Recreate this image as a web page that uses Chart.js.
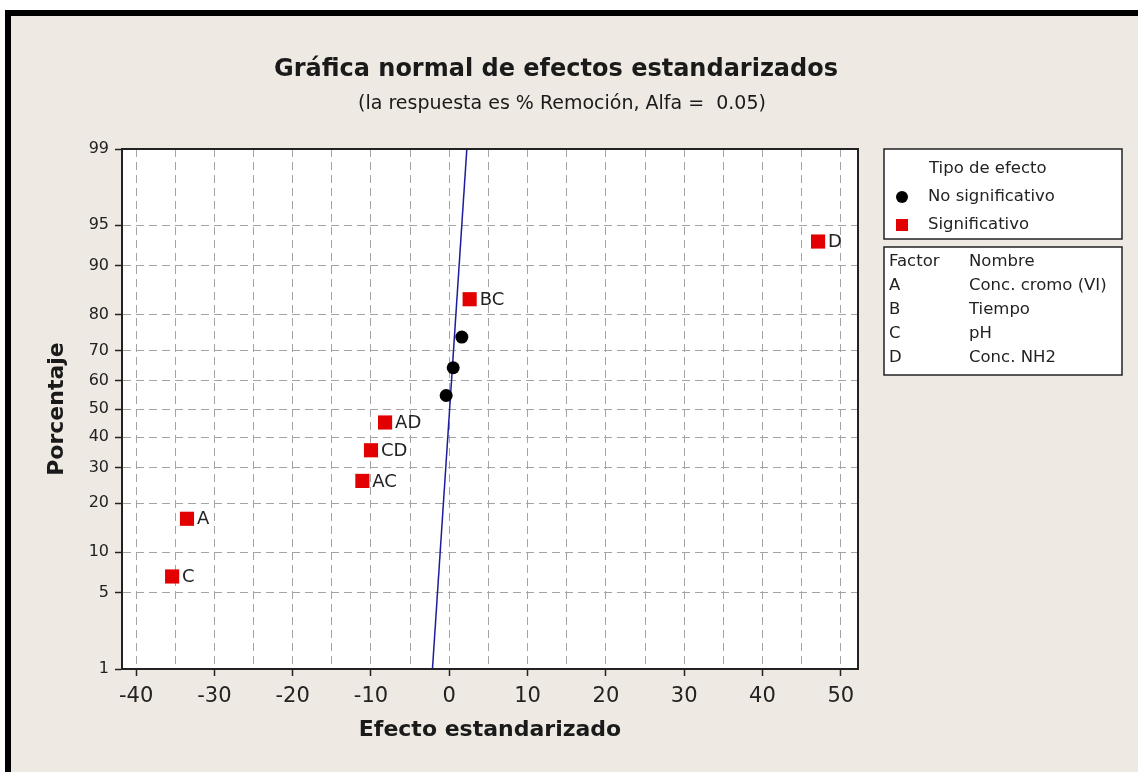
<!DOCTYPE html>
<html>
<head>
<meta charset="utf-8">
<script src="https://cdn.jsdelivr.net/npm/chart.js@4.4.1/dist/chart.umd.min.js"></script>
<style>
  html, body { margin: 0; padding: 0; background: #fff; }
  canvas { display: block; }
</style>
</head>
<body>
<canvas id="effects-chart" width="1138" height="772"></canvas>
<script>
// valores (efecto estandarizado vs porcentaje)
const effectNames = ["C", "A", "AC", "CD", "AD", "", "", "", "BC", "D"];
const effectValues = [-35.4, -33.5, -11.1, -10.0, -8.2, -0.4, 0.5, 1.6, 2.6, 47.1];
const effectPercents = [6.7, 16.3, 26.0, 35.6, 45.2, 54.8, 64.4, 74.0, 83.7, 93.3];
const effectSignificant = [true, true, true, true, true, false, false, false, true, true];

const fitLineValues = [-2.15, 2.24];
const fitLinePercents = [1, 99];

const percentTicks = [1, 5, 10, 20, 30, 40, 50, 60, 70, 80, 90, 95, 99];
const effectTicks = [-40, -35, -30, -25, -20, -15, -10, -5, 0, 5, 10, 15, 20, 25, 30, 35, 40, 45, 50];

const factorCodes = ["A", "B", "C", "D"];
const factorNames = ["Conc. cromo (VI)", "Tiempo", "pH", "Conc. NH2"];

const RED = "#e30000";
const FONT = "'DejaVu Sans', Verdana, sans-serif";

// inversa de la normal (Acklam) para la escala de probabilidad
function probit(p) {
  const a = [-3.969683028665376e+01, 2.209460984245205e+02, -2.759285104469687e+02, 1.383577518672690e+02, -3.066479806614716e+01, 2.506628277459239e+00];
  const b = [-5.447609879822406e+01, 1.615858368580409e+02, -1.556989798598866e+02, 6.680131188771972e+01, -1.328068155288572e+01];
  const c = [-7.784894002430293e-03, -3.223964580411365e-01, -2.400758277161838e+00, -2.549732539343734e+00, 4.374664141464968e+00, 2.938163982698783e+00];
  const d = [7.784695709041462e-03, 3.224671290700398e-01, 2.445134137142996e+00, 3.754408661907416e+00];
  const pLow = 0.02425;
  let q, r;
  if (p < pLow) {
    q = Math.sqrt(-2 * Math.log(p));
    return (((((c[0] * q + c[1]) * q + c[2]) * q + c[3]) * q + c[4]) * q + c[5]) /
      ((((d[0] * q + d[1]) * q + d[2]) * q + d[3]) * q + 1);
  }
  if (p <= 1 - pLow) {
    q = p - 0.5;
    r = q * q;
    return (((((a[0] * r + a[1]) * r + a[2]) * r + a[3]) * r + a[4]) * r + a[5]) * q /
      (((((b[0] * r + b[1]) * r + b[2]) * r + b[3]) * r + b[4]) * r + 1);
  }
  q = Math.sqrt(-2 * Math.log(1 - p));
  return -(((((c[0] * q + c[1]) * q + c[2]) * q + c[3]) * q + c[4]) * q + c[5]) /
    ((((d[0] * q + d[1]) * q + d[2]) * q + d[3]) * q + 1);
}

const significantPoints = [];
const otherPoints = [];
effectValues.forEach((v, i) => {
  const pt = { x: v, y: probit(effectPercents[i] / 100), name: effectNames[i] };
  if (effectSignificant[i]) significantPoints.push(pt);
  else otherPoints.push(pt);
});

const fitLine = fitLineValues.map((v, i) => ({ x: v, y: probit(fitLinePercents[i] / 100) }));

const decorPlugin = {
  id: "decor",
  beforeDraw(chart) {
    const ctx = chart.ctx;
    const area = chart.chartArea;
    ctx.save();
    ctx.fillStyle = "#ffffff";
    ctx.fillRect(0, 0, chart.width, chart.height);
    ctx.fillStyle = "#efe9e3";
    ctx.fillRect(5, 10, chart.width - 5, chart.height - 10);
    ctx.fillStyle = "#000";
    ctx.fillRect(5, 10, chart.width - 5, 6);
    ctx.fillRect(5, 10, 6, chart.height - 10);
    ctx.fillStyle = "#ffffff";
    ctx.fillRect(area.left, area.top, area.right - area.left, area.bottom - area.top);
    ctx.restore();
  },
  afterDatasetsDraw(chart) {
    const ctx = chart.ctx;
    const meta = chart.getDatasetMeta(0);
    ctx.save();
    ctx.font = "18px " + FONT;
    ctx.fillStyle = "#222";
    ctx.textBaseline = "middle";
    ctx.textAlign = "left";
    meta.data.forEach((el, i) => {
      ctx.fillText(chart.data.datasets[0].data[i].name, el.x + 10, el.y + 1);
    });
    ctx.restore();
  },
  afterDraw(chart) {
    const ctx = chart.ctx;
    const area = chart.chartArea;
    ctx.save();
    // marco del area de trazado
    ctx.strokeStyle = "#222";
    ctx.lineWidth = 2;
    ctx.strokeRect(area.left, area.top, area.right - area.left, area.bottom - area.top);

    // titulos
    ctx.fillStyle = "#1a1a1a";
    ctx.textAlign = "center";
    ctx.textBaseline = "middle";
    ctx.font = "bold 24px " + FONT;
    ctx.fillText("Gráfica normal de efectos estandarizados", 556, 70);
    ctx.font = "19px " + FONT;
    ctx.fillText("(la respuesta es % Remoción, Alfa =  0.05)", 562, 104);

    ctx.font = "bold 22px " + FONT;
    ctx.fillText("Efecto estandarizado", (area.left + area.right) / 2, 730);
    ctx.save();
    ctx.translate(57, (area.top + area.bottom) / 2);
    ctx.rotate(-Math.PI / 2);
    ctx.fillText("Porcentaje", 0, 0);
    ctx.restore();

    // leyenda: tipo de efecto
    ctx.lineWidth = 1.5;
    ctx.strokeStyle = "#222";
    ctx.fillStyle = "#fff";
    ctx.fillRect(884, 149, 238, 90);
    ctx.strokeRect(884, 149, 238, 90);
    ctx.fillRect(884, 247, 238, 128);
    ctx.strokeRect(884, 247, 238, 128);

    ctx.fillStyle = "#222";
    ctx.textAlign = "left";
    ctx.font = "16.5px " + FONT;
    ctx.fillText("Tipo de efecto", 929, 169);
    ctx.fillText("No significativo", 928, 197);
    ctx.fillText("Significativo", 928, 225);
    ctx.fillStyle = "#000";
    ctx.beginPath();
    ctx.arc(902, 197, 6, 0, Math.PI * 2);
    ctx.fill();
    ctx.fillStyle = RED;
    ctx.fillRect(896, 219, 12, 12);

    // leyenda: factores
    ctx.fillStyle = "#222";
    ctx.fillText("Factor", 889, 262);
    ctx.fillText("Nombre", 969, 262);
    factorCodes.forEach((code, i) => {
      const y = 286 + i * 24;
      ctx.fillText(code, 889, y);
      ctx.fillText(factorNames[i], 969, y);
    });
    ctx.restore();
  },
};

const ctx = document.getElementById("effects-chart").getContext("2d");

const effectsChart = new Chart(ctx, {
  type: "scatter",
  data: {
    datasets: [
      {
        label: "Significativo",
        data: significantPoints,
        pointStyle: "rect",
        pointRadius: 10,
        pointBackgroundColor: RED,
        pointBorderWidth: 0,
        pointBorderColor: RED,
      },
      {
        label: "No significativo",
        data: otherPoints,
        pointStyle: "circle",
        pointRadius: 6.5,
        pointBackgroundColor: "#000",
        pointBorderWidth: 0,
      },
      {
        label: "Ajuste",
        data: fitLine,
        showLine: true,
        pointRadius: 0,
        borderColor: "#1c1c9c",
        borderWidth: 1.5,
      },
    ],
  },
  options: {
    responsive: false,
    animation: false,
    events: [],
    layout: {
      padding: { top: 149, right: 280, bottom: 0, left: 0 },
    },
    plugins: {
      legend: { display: false },
      tooltip: { enabled: false },
    },
    scales: {
      x: {
        type: "linear",
        min: -41.8,
        max: 52.2,
        afterBuildTicks: (scale) => {
          scale.ticks = effectTicks.map((v) => ({ value: v }));
        },
        afterFit: (scale) => {
          scale.height = 103;
        },
        ticks: {
          autoSkip: false,
          maxRotation: 0,
          padding: 8,
          color: "#222",
          font: { family: FONT, size: 21 },
          callback: (value) => (value % 10 === 0 ? String(value) : ""),
        },
        grid: {
          color: "#a4a4a4",
          lineWidth: 1,
          tickLength: 7,
          tickWidth: 1.5,
          tickColor: (c) => (c.tick && c.tick.value % 10 === 0 ? "#222" : "rgba(0,0,0,0)"),
        },
        border: { display: true, color: "#222", width: 2, dash: [8, 5] },
      },
      y: {
        type: "linear",
        min: probit(0.01),
        max: probit(0.99),
        afterBuildTicks: (scale) => {
          scale.ticks = percentTicks.map((p) => ({ value: probit(p / 100) }));
        },
        afterFit: (scale) => {
          scale.width = 122;
        },
        ticks: {
          autoSkip: false,
          padding: 6,
          color: "#222",
          font: { family: FONT, size: 16 },
          callback: (value, index) => String(percentTicks[index]),
        },
        grid: {
          color: "#a4a4a4",
          lineWidth: 1,
          tickLength: 7,
          tickWidth: 1.5,
          tickColor: "#222",
        },
        border: { display: true, color: "#222", width: 2, dash: [8, 5] },
      },
    },
  },
  plugins: [decorPlugin],
});
</script>
</body>
</html>
